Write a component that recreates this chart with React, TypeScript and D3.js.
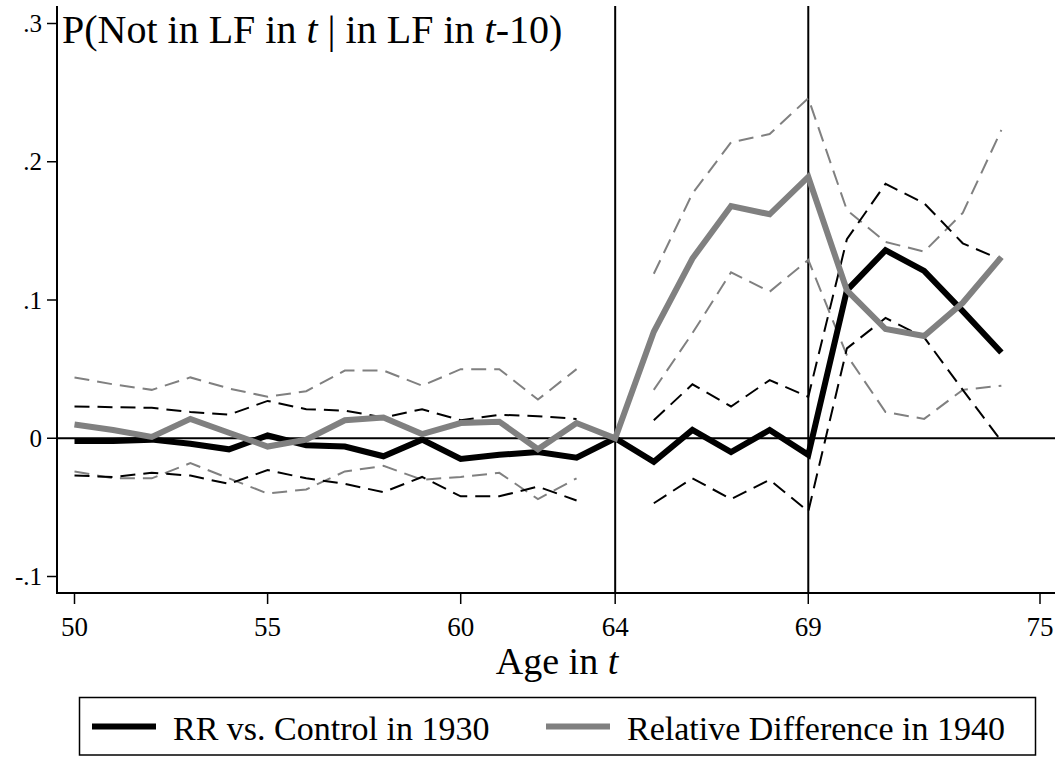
import React, { useRef, useEffect } from 'react';
import * as d3 from 'd3';

// ages on the horizontal axis
const ages = [50, 51, 52, 53, 54, 55, 56, 57, 58, 59, 60, 61, 62, 63, 64, 65, 66, 67, 68, 69, 70, 71, 72, 73, 74];

// RR vs. Control in 1930 (point estimate + dashed bounds)
const rr1930 = [-0.002, -0.002, -0.001, -0.004, -0.008, 0.002, -0.005, -0.006, -0.013, -0.001, -0.015, -0.012, -0.010, -0.014, 0, -0.017, 0.006, -0.010, 0.006, -0.012, 0.107, 0.136, 0.121, 0.092, 0.062];
const rr1930Hi = [0.023, 0.0225, 0.022, 0.019, 0.017, 0.027, 0.021, 0.020, 0.015, 0.021, 0.013, 0.017, 0.016, 0.014, null, 0.013, 0.039, 0.023, 0.042, 0.030, 0.144, 0.184, 0.170, 0.141, 0.129];
const rr1930Lo = [-0.027, -0.028, -0.025, -0.027, -0.033, -0.023, -0.029, -0.033, -0.039, -0.028, -0.042, -0.042, -0.035, -0.045, null, -0.047, -0.029, -0.044, -0.030, -0.053, 0.065, 0.087, 0.073, 0.035, -0.002];

// Relative Difference in 1940
const rd1940 = [0.010, 0.006, 0.001, 0.014, 0.004, -0.006, -0.001, 0.013, 0.015, 0.003, 0.011, 0.012, -0.008, 0.011, 0, 0.077, 0.130, 0.168, 0.162, 0.189, 0.107, 0.079, 0.074, 0.098, 0.131];
const rd1940Hi = [0.044, 0.039, 0.035, 0.044, 0.036, 0.030, 0.034, 0.049, 0.049, 0.038, 0.050, 0.050, 0.028, 0.050, null, 0.119, 0.177, 0.214, 0.220, 0.246, 0.165, 0.142, 0.135, 0.163, 0.223];
const rd1940Lo = [-0.024, -0.029, -0.029, -0.018, -0.029, -0.040, -0.037, -0.024, -0.020, -0.030, -0.028, -0.025, -0.044, -0.029, null, 0.035, 0.076, 0.120, 0.106, 0.129, 0.060, 0.019, 0.014, 0.035, 0.038];

const xTicks = [50, 55, 60, 64, 69, 75];
const yTicks = [-0.1, 0, 0.1, 0.2, 0.3];
const yTickLabels = ['-.1', '0', '.1', '.2', '.3'];
const refAges = [64, 69];
const legendLabels = ['RR vs. Control in 1930', 'Relative Difference in 1940'];

const W = 1055;
const H = 759;
const FONT = '"Liberation Serif", "Times New Roman", serif';
const GRAY = '#808080';

const App = () => {
  const svgRef = useRef(null);

  useEffect(() => {
    const svg = d3.select(svgRef.current);
    svg.selectAll('*').remove();

    const x = d3.scaleLinear().domain([50, 75]).range([74.5, 1040]);
    const y = d3.scaleLinear().domain([-0.1, 0.3]).range([576.5, 23.5]);

    const left = 57;
    const bottom = 593;
    const top = 6;
    const right = W;

    // axes
    svg.append('line')
      .attr('x1', left).attr('x2', left).attr('y1', top).attr('y2', bottom)
      .attr('stroke', 'black').attr('stroke-width', 2);
    svg.append('line')
      .attr('x1', left - 1).attr('x2', right).attr('y1', bottom).attr('y2', bottom)
      .attr('stroke', 'black').attr('stroke-width', 2);

    // y ticks
    svg.selectAll('line.ytick')
      .data(yTicks)
      .join('line')
      .attr('class', 'ytick')
      .attr('x1', left - 10).attr('x2', left)
      .attr('y1', d => y(d)).attr('y2', d => y(d))
      .attr('stroke', 'black').attr('stroke-width', 1.5);
    svg.selectAll('text.ylab')
      .data(yTicks)
      .join('text')
      .attr('class', 'ylab')
      .attr('x', 42)
      .attr('y', d => y(d) + 8.5)
      .attr('text-anchor', 'end')
      .attr('font-family', FONT)
      .attr('font-size', 25)
      .text((d, i) => yTickLabels[i]);

    // x ticks
    svg.selectAll('line.xtick')
      .data(xTicks)
      .join('line')
      .attr('class', 'xtick')
      .attr('x1', d => x(d)).attr('x2', d => x(d))
      .attr('y1', bottom).attr('y2', bottom + 11)
      .attr('stroke', 'black').attr('stroke-width', 1.5);
    svg.selectAll('text.xlab')
      .data(xTicks)
      .join('text')
      .attr('class', 'xlab')
      .attr('x', d => x(d))
      .attr('y', 636)
      .attr('text-anchor', 'middle')
      .attr('font-family', FONT)
      .attr('font-size', 27)
      .text(d => d);

    // reference lines
    svg.append('line')
      .attr('x1', left).attr('x2', right).attr('y1', y(0)).attr('y2', y(0))
      .attr('stroke', 'black').attr('stroke-width', 2);
    svg.selectAll('line.vref')
      .data(refAges)
      .join('line')
      .attr('class', 'vref')
      .attr('x1', d => x(d)).attr('x2', d => x(d))
      .attr('y1', top).attr('y2', bottom)
      .attr('stroke', 'black').attr('stroke-width', 2);

    const line = d3.line()
      .defined(d => d[1] !== null)
      .x(d => x(d[0]))
      .y(d => y(d[1]));
    const pts = vals => ages.map((a, i) => [a, vals[i]]);

    // dashed bounds
    const dashed = [
      { vals: rd1940Hi, color: GRAY },
      { vals: rd1940Lo, color: GRAY },
      { vals: rr1930Hi, color: 'black' },
      { vals: rr1930Lo, color: 'black' },
    ];
    dashed.forEach(s => {
      svg.append('path')
        .attr('d', line(pts(s.vals)))
        .attr('fill', 'none')
        .attr('stroke', s.color)
        .attr('stroke-width', 2)
        .attr('stroke-dasharray', '15,8');
    });

    // point estimates
    svg.append('path')
      .attr('d', line(pts(rr1930)))
      .attr('fill', 'none')
      .attr('stroke', 'black')
      .attr('stroke-width', 6)
      .attr('stroke-linejoin', 'miter');
    svg.append('path')
      .attr('d', line(pts(rd1940)))
      .attr('fill', 'none')
      .attr('stroke', GRAY)
      .attr('stroke-width', 6)
      .attr('stroke-linejoin', 'miter');

    // title inside the plot
    const title = svg.append('text')
      .attr('x', 62)
      .attr('y', 43)
      .attr('font-family', FONT)
      .attr('font-size', 40);
    title.append('tspan').text('P(Not in LF in ');
    title.append('tspan').attr('font-style', 'italic').text('t');
    title.append('tspan').text(' | in LF in ');
    title.append('tspan').attr('font-style', 'italic').text('t');
    title.append('tspan').text('-10)');

    // axis title
    const xt = svg.append('text')
      .attr('x', 557)
      .attr('y', 674)
      .attr('text-anchor', 'middle')
      .attr('font-family', FONT)
      .attr('font-size', 38);
    xt.append('tspan').text('Age in ');
    xt.append('tspan').attr('font-style', 'italic').text('t');

    // legend
    svg.append('rect')
      .attr('x', 79.5).attr('y', 697.5)
      .attr('width', 956).attr('height', 57.5)
      .attr('fill', 'white')
      .attr('stroke', 'black')
      .attr('stroke-width', 1.5);
    const legendItems = [
      { x0: 92, color: 'black', label: legendLabels[0] },
      { x0: 546, color: GRAY, label: legendLabels[1] },
    ];
    legendItems.forEach(it => {
      svg.append('line')
        .attr('x1', it.x0).attr('x2', it.x0 + 64)
        .attr('y1', 726.5).attr('y2', 726.5)
        .attr('stroke', it.color)
        .attr('stroke-width', 6);
      svg.append('text')
        .attr('x', it.x0 + 81)
        .attr('y', 740)
        .attr('font-family', FONT)
        .attr('font-size', 34)
        .text(it.label);
    });
  }, []);

  return (
    <svg
      ref={svgRef}
      width={W}
      height={H}
      style={{ position: 'absolute', left: 0, top: 0, background: 'white' }}
    />
  );
};

export default App;
